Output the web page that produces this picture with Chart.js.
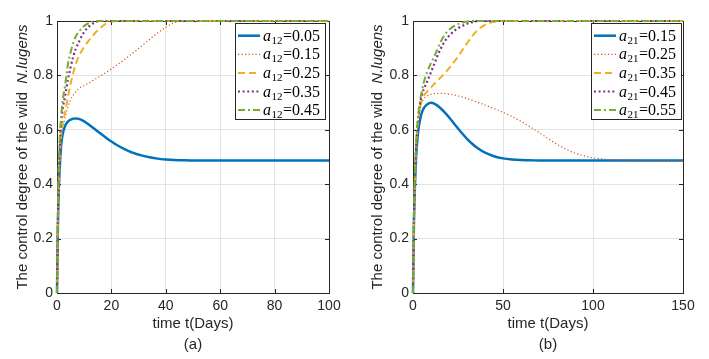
<!DOCTYPE html>
<html><head><meta charset="utf-8">
<script src="https://cdn.jsdelivr.net/npm/chart.js@4/dist/chart.umd.min.js"></script>
<style>
html,body{margin:0;padding:0;background:#fff;width:709px;height:359px;overflow:hidden}
canvas{position:absolute;top:0}
</style></head><body>
<canvas id="ca" width="355" height="359" style="left:0"></canvas>
<canvas id="cb" width="354" height="359" style="left:355px"></canvas>
<script>
// ---------- Panel (a) data ----------
const tA = [0,0.25,0.5,1,1.5,2,3,4,5,6,7,8,10,12,14,16,18,20,22,25,28,31,34,37,40,43,46,50,55,60,70,80,90,100];
const a12Values = ['0.05','0.15','0.25','0.35','0.45'];
const a12_005 = [0,0.2,0.33,0.46,0.54,0.58,0.615,0.63,0.637,0.641,0.642,0.64,0.631,0.617,0.602,0.586,0.571,0.557,0.544,0.528,0.515,0.506,0.499,0.494,0.491,0.489,0.488,0.487,0.487,0.487,0.487,0.487,0.487,0.487];
const a12_015 = [0,0.2,0.34,0.48,0.56,0.6,0.645,0.683,0.71,0.728,0.741,0.751,0.763,0.774,0.786,0.798,0.811,0.824,0.838,0.86,0.883,0.907,0.932,0.956,0.977,0.993,0.999,1,1,1,1,1,1,1];
const a12_025 = [0,0.2,0.35,0.5,0.58,0.62,0.665,0.72,0.77,0.81,0.845,0.87,0.905,0.932,0.956,0.975,0.99,0.998,1,1,1,1,1,1,1,1,1,1,1,1,1,1,1,1];
const a12_035 = [0,0.21,0.37,0.53,0.62,0.67,0.725,0.785,0.83,0.87,0.9,0.922,0.96,0.982,0.995,1,1,1,1,1,1,1,1,1,1,1,1,1,1,1,1,1,1,1];
const a12_045 = [0,0.22,0.42,0.57,0.645,0.7,0.765,0.84,0.885,0.92,0.945,0.96,0.982,0.993,0.999,1,1,1,1,1,1,1,1,1,1,1,1,1,1,1,1,1,1,1];
const xTicksA = [0,20,40,60,80,100];

// ---------- Panel (b) data ----------
const tB = [0,0.5,1,2,3,4,5,6,8,10,12,15,18,21,24,27,30,33,36,40,45,50,55,60,65,70,75,80,85,90,95,100,105,110,115,120,130,140,150];
const a21Values = ['0.15','0.25','0.35','0.45','0.55'];
const a21_015 = [0,0.25,0.38,0.53,0.6,0.64,0.665,0.68,0.694,0.699,0.695,0.681,0.661,0.638,0.613,0.589,0.567,0.548,0.532,0.516,0.503,0.495,0.491,0.489,0.488,0.487,0.487,0.487,0.487,0.487,0.487,0.487,0.487,0.487,0.487,0.487,0.487,0.487,0.487];
const a21_025 = [0,0.25,0.39,0.55,0.63,0.675,0.7,0.713,0.725,0.73,0.733,0.734,0.733,0.73,0.726,0.721,0.715,0.708,0.701,0.691,0.678,0.664,0.649,0.631,0.611,0.59,0.568,0.547,0.529,0.514,0.504,0.497,0.493,0.49,0.489,0.488,0.487,0.487,0.487];
const a21_035 = [0,0.26,0.4,0.56,0.64,0.685,0.71,0.725,0.742,0.756,0.77,0.79,0.811,0.834,0.86,0.889,0.918,0.945,0.967,0.986,0.997,1,1,1,1,1,1,1,1,1,1,1,1,1,1,1,1,1,1];
const a21_045 = [0,0.27,0.41,0.57,0.65,0.7,0.73,0.75,0.78,0.812,0.845,0.893,0.929,0.952,0.969,0.981,0.99,0.996,1,1,1,1,1,1,1,1,1,1,1,1,1,1,1,1,1,1,1,1,1];
const a21_055 = [0,0.27,0.42,0.58,0.66,0.71,0.745,0.775,0.815,0.845,0.872,0.918,0.953,0.973,0.985,0.993,0.998,1,1,1,1,1,1,1,1,1,1,1,1,1,1,1,1,1,1,1,1,1,1];
const xTicksB = [0,50,100,150];

const yTicks = [0,0.2,0.4,0.6,0.8,1];

// ---------- styling ----------
const colors = ['#0072BD','#D95319','#EDB120','#7E2F8E','#77AC30'];
const widths = [2.5,1.2,2,2.2,2];
const dashes = [[],[1.2,2.3],[7,4],[2,2.6],[7,3,2,3]];
const FONT = '"Liberation Sans", Arial, sans-serif';
const SERIF = '"Liberation Serif", "Times New Roman", serif';
const INK = '#262626';

function makeDatasets(t, series, sym, sub, vals){
  return series.map((s,i)=>({
    label: sym+sub+'='+vals[i],
    data: t.map((x,k)=>({x:x, y:s[k]})),
    borderColor: colors[i],
    backgroundColor: colors[i],
    borderWidth: widths[i],
    borderDash: dashes[i],
    pointRadius: 0,
    fill: false,
    tension: 0,
    cubicInterpolationMode: 'monotone',
    clip: false,
    order: 5 - i
  }));
}

const decor = {
  id: 'decor',
  beforeDatasetsDraw(chart, args, o){
    const ctx = chart.ctx, ca = chart.chartArea;
    ctx.save();
    ctx.strokeStyle = INK; ctx.lineWidth = 1;
    const xs = chart.scales.x, ys = chart.scales.y;
    ctx.beginPath();
    xs.ticks.forEach(tk=>{
      const px = Math.round(xs.getPixelForValue(tk.value))+0.5;
      ctx.moveTo(px, ca.bottom); ctx.lineTo(px, ca.bottom-4);
      ctx.moveTo(px, ca.top); ctx.lineTo(px, ca.top+4);
    });
    ys.ticks.forEach(tk=>{
      const py = Math.round(ys.getPixelForValue(tk.value))+0.5;
      ctx.moveTo(ca.left, py); ctx.lineTo(ca.left+4, py);
      ctx.moveTo(ca.right, py); ctx.lineTo(ca.right-4, py);
    });
    ctx.stroke();
    ctx.strokeRect(Math.round(ca.left)+0.5, Math.round(ca.top)+0.5, Math.round(ca.right-ca.left), Math.round(ca.bottom-ca.top));
    const p1 = 'The control degree of the wild  ', p2 = 'N.lugens';
    ctx.fillStyle = INK;
    ctx.translate(23, (ca.top+ca.bottom)/2);
    ctx.rotate(-Math.PI/2);
    ctx.textBaseline = 'middle';
    ctx.font = '15px '+FONT; const w1 = ctx.measureText(p1).width;
    ctx.font = 'italic 15px '+FONT; const w2 = ctx.measureText(p2).width;
    let x0 = -(w1+w2)/2;
    ctx.font = '15px '+FONT; ctx.textAlign='left'; ctx.fillText(p1, x0, 0);
    ctx.font = 'italic 15px '+FONT; ctx.fillText(p2, x0+w1, 0);
    ctx.restore();
    ctx.save();
    ctx.fillStyle = INK; ctx.textAlign='center'; ctx.textBaseline='middle';
    ctx.font = '15px '+FONT;
    const cx = (ca.left+ca.right)/2;
    ctx.fillText('time t(Days)', cx, 324);
    ctx.fillText(o.caption, cx, 345);
    ctx.restore();
  },
  afterDatasetsDraw(chart, args, o){
    const ctx = chart.ctx, ca = chart.chartArea;
    const w = 90, h = 96;
    const x = Math.round(ca.right - o.rm - w), y = Math.round(ca.top + 2);
    ctx.save();
    ctx.fillStyle = '#fff'; ctx.fillRect(x, y, w, h);
    ctx.strokeStyle = INK; ctx.lineWidth = 1; ctx.strokeRect(x+0.5, y+0.5, w, h);
    chart.data.datasets.forEach((ds,i)=>{
      const cy = y + 12.7 + i*18.6;
      ctx.save();
      ctx.strokeStyle = ds.borderColor; ctx.lineWidth = ds.borderWidth;
      ctx.setLineDash(ds.borderDash || []);
      ctx.beginPath(); ctx.moveTo(x+3, cy); ctx.lineTo(x+25, cy); ctx.stroke();
      ctx.restore();
      let tx = x + 28; const base = cy + 5;
      ctx.fillStyle = '#000'; ctx.textAlign = 'left'; ctx.textBaseline = 'alphabetic';
      ctx.font = 'italic 16px '+SERIF; ctx.fillText(o.sym, tx, base); tx += ctx.measureText(o.sym).width + 0.5;
      ctx.font = '11px '+SERIF; ctx.fillText(o.sub, tx, base+3); tx += ctx.measureText(o.sub).width + 0.5;
      ctx.font = '16px '+SERIF; ctx.fillText('=' + o.vals[i], tx, base);
    });
    ctx.restore();
  }
};

function makeChart(id, t, series, sym, sub, vals, xTicks, xMax, yW, caption, rm){
  return new Chart(document.getElementById(id), {
    type: 'line',
    data: { datasets: makeDatasets(t, series, sym, sub, vals) },
    options: {
      responsive: false, animation: false, devicePixelRatio: 1,
      layout: { padding: { left: 0, right: 26, top: 21, bottom: 0 } },
      plugins: { legend: { display: false }, tooltip: { enabled: false },
                 decor: { caption: caption, sym: sym, sub: sub, vals: vals, rm: rm } },
      scales: {
        x: {
          type: 'linear', min: 0, max: xMax,
          afterBuildTicks: s => { s.ticks = xTicks.map(v=>({value:v})); },
          afterFit: s => { s.height = 66; },
          grid: { color: '#e3e3e3', drawTicks: false, lineWidth: 1 },
          border: { display: false },
          ticks: { padding: 5, color: INK, font: { family: FONT, size: 14 }, maxRotation: 0,
                   callback: v => String(v) }
        },
        y: {
          type: 'linear', min: 0, max: 1,
          afterBuildTicks: s => { s.ticks = yTicks.map(v=>({value:v})); },
          afterFit: s => { s.width = yW; },
          grid: { color: '#e3e3e3', drawTicks: false, lineWidth: 1 },
          border: { display: false },
          ticks: { padding: 4, color: INK, font: { family: FONT, size: 14 },
                   callback: v => String(Math.round(v*10)/10) }
        }
      }
    },
    plugins: [decor]
  });
}

makeChart('ca', tA, [a12_005,a12_015,a12_025,a12_035,a12_045], 'a', '12', a12Values, xTicksA, 100, 57, '(a)', 4);
makeChart('cb', tB, [a21_015,a21_025,a21_035,a21_045,a21_055], 'a', '21', a21Values, xTicksB, 150, 58, '(b)', 2);
</script>
</body></html>
